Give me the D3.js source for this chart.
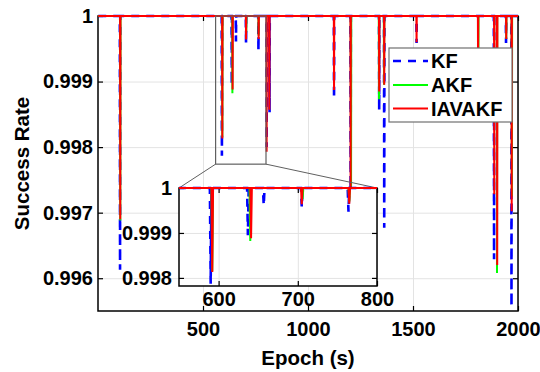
<!DOCTYPE html>
<html><head><meta charset="utf-8">
<script src="https://cdn.jsdelivr.net/npm/d3@7"></script>
<style>
html,body{margin:0;padding:0;background:#fff;}
svg text{font-family:"Liberation Sans",Arial,sans-serif;font-weight:bold;fill:#000;}
</style></head>
<body><svg id="chart" width="540" height="372"></svg>
<script>
// ---- data ----
const seriesNames = ["KF", "AKF", "IAVAKF"];
const kfEpochs  = [105, 590, 637, 657, 705, 764, 803, 817, 1124, 1203, 1339, 1363, 1517, 1886, 1943, 1969];
const kfValues  = [0.99613, 0.99787, 0.99895, 0.99961, 0.99957, 0.99947, 0.9980, 0.99853, 0.99874, 0.9969, 0.99857, 0.99677, 0.99959, 0.99629, 0.99959, 0.99557];
const akfEpochs = [106, 592, 640, 706, 765, 1205, 1338, 1362, 1811, 1900, 1944, 1971];
const akfValues = [0.99688, 0.99815, 0.99882, 0.99975, 0.9997, 0.9971, 0.99873, 0.99895, 0.9991, 0.99608, 0.99965, 0.99725];
const iavEpochs = [106, 592, 641, 705, 765, 803, 816, 1124, 1203, 1339, 1363, 1517, 1810, 1887, 1901, 1944, 1970];
const iavValues = [0.9969, 0.99813, 0.99888, 0.99964, 0.99965, 0.99793, 0.99857, 0.99887, 0.9972, 0.99885, 0.99895, 0.9996, 0.9991, 0.99728, 0.9962, 0.99965, 0.99702];
const xTicks = [500, 1000, 1500, 2000];
const yTicks = [0.996, 0.997, 0.998, 0.999, 1];
const insetXTicks = [600, 700, 800];
const insetYTicks = [0.998, 0.999, 1];
const xDomain = [0, 2000];
const yDomain = [0.9955, 1];
const insetXDomain = [550, 800];
const insetYDomain = [0.99782, 1];
const zoomBoxX = [560, 800];
const zoomBoxY = [0.99774, 1];
const epochEnd = 2000;

// ---- layout ----
const svg = d3.select("#chart");
const L = 98, R = 518, T = 16, B = 311;
const iL = 179, iR = 377, iT = 188, iB = 286;
const colors = ["#0000ff", "#00ff00", "#ff0000"];
const widths = [2.6, 2, 2];
const dashes = ["8,7", null, null];
const FS = 20;
const fmtY = d => d === 1 ? "1" : d3.format(".3f")(d);
const fmtX = d3.format("d");

function build(epochs, values) {
  const pts = [[1, 1]];
  epochs.forEach((e, i) => { pts.push([e - 1, 1], [e, values[i]], [e + 1, 1]); });
  pts.push([epochEnd, 1]);
  return pts;
}
const series = [build(kfEpochs, kfValues), build(akfEpochs, akfValues), build(iavEpochs, iavValues)];

const x = d3.scaleLinear().domain(xDomain).range([L, R]);
const y = d3.scaleLinear().domain(yDomain).range([B, T]);

// grid
const gridColor = "#e3e3e3";
svg.append("g").attr("transform", `translate(0,${B})`)
  .call(d3.axisBottom(x).tickValues(xTicks).tickSize(-(B - T)).tickFormat(""))
  .call(g => { g.select(".domain").remove(); g.selectAll("line").attr("stroke", gridColor); });
svg.append("g").attr("transform", `translate(${L},0)`)
  .call(d3.axisLeft(y).tickValues(yTicks).tickSize(-(R - L)).tickFormat(""))
  .call(g => { g.select(".domain").remove(); g.selectAll("line").attr("stroke", gridColor); });

// axes
function styleAxis(g) {
  g.select(".domain").remove();
  g.selectAll("line").attr("stroke", "#000").attr("stroke-width", 1.2);
  g.selectAll("text").attr("font-size", FS).attr("font-family", "Liberation Sans, Arial, sans-serif").attr("font-weight", "bold").attr("fill", "#000");
}
svg.append("g").attr("transform", `translate(0,${B})`)
  .call(d3.axisBottom(x).tickValues(xTicks).tickSize(-5).tickPadding(11).tickFormat(fmtX)).call(styleAxis);
svg.append("g").attr("transform", `translate(0,${T})`)
  .call(d3.axisTop(x).tickValues(xTicks).tickSize(-5).tickFormat("")).call(styleAxis);
svg.append("g").attr("transform", `translate(${L},0)`)
  .call(d3.axisLeft(y).tickValues(yTicks).tickSize(-5).tickPadding(5).tickFormat(fmtY)).call(styleAxis);
svg.append("g").attr("transform", `translate(${R},0)`)
  .call(d3.axisRight(y).tickValues(yTicks).tickSize(-5).tickFormat("")).call(styleAxis);

svg.append("rect").attr("x", L).attr("y", T).attr("width", R - L).attr("height", B - T)
  .attr("fill", "none").attr("stroke", "#000").attr("stroke-width", 1.5);

// main lines
const line = d3.line().x(d => x(d[0])).y(d => y(d[1]));
series.forEach((s, i) => {
  svg.append("path").datum(s).attr("d", line).attr("fill", "none")
    .attr("stroke", colors[i]).attr("stroke-width", widths[i])
    .attr("stroke-dasharray", dashes[i]);
});

// zoom box and connectors
const zx0 = x(zoomBoxX[0]), zx1 = x(zoomBoxX[1]), zy0 = y(zoomBoxY[1]), zy1 = y(zoomBoxY[0]);
svg.append("rect").attr("x", zx0).attr("y", zy0).attr("width", zx1 - zx0).attr("height", zy1 - zy0)
  .attr("fill", "none").attr("stroke", "#606060").attr("stroke-width", 1.2);
svg.append("line").attr("x1", zx0).attr("y1", zy1).attr("x2", iL).attr("y2", iT).attr("stroke", "#606060").attr("stroke-width", 1);
svg.append("line").attr("x1", zx1).attr("y1", zy1).attr("x2", iR).attr("y2", iT).attr("stroke", "#606060").attr("stroke-width", 1);

// legend
const lg = svg.append("g");
lg.append("rect").attr("x", 389).attr("y", 48).attr("width", 123).attr("height", 74)
  .attr("fill", "#fff").attr("stroke", "#707070").attr("stroke-width", 1.2);
const legY = [61, 85, 108.5];
seriesNames.forEach((n, i) => {
  lg.append("line").attr("x1", 393).attr("x2", 428).attr("y1", legY[i]).attr("y2", legY[i])
    .attr("stroke", colors[i]).attr("stroke-width", widths[i]).attr("stroke-dasharray", dashes[i]);
  lg.append("text").attr("x", 431).attr("y", legY[i]).attr("dy", "0.36em")
    .attr("font-size", FS).text(n);
});

// inset
const ix = d3.scaleLinear().domain(insetXDomain).range([iL, iR]);
const iy = d3.scaleLinear().domain(insetYDomain).range([iB, iT]);
const ins = svg.append("g");
ins.append("rect").attr("x", iL).attr("y", iT).attr("width", iR - iL).attr("height", iB - iT).attr("fill", "#fff");
ins.append("g").attr("transform", `translate(0,${iB})`)
  .call(d3.axisBottom(ix).tickValues(insetXTicks).tickSize(-(iB - iT)).tickFormat(""))
  .call(g => { g.select(".domain").remove(); g.selectAll("line").attr("stroke", gridColor); });
ins.append("g").attr("transform", `translate(${iL},0)`)
  .call(d3.axisLeft(iy).tickValues(insetYTicks).tickSize(-(iR - iL)).tickFormat(""))
  .call(g => { g.select(".domain").remove(); g.selectAll("line").attr("stroke", gridColor); });
ins.append("g").attr("transform", `translate(0,${iB})`)
  .call(d3.axisBottom(ix).tickValues(insetXTicks).tickSize(-5).tickPadding(6).tickFormat(fmtX)).call(styleAxis);
ins.append("g").attr("transform", `translate(0,${iT})`)
  .call(d3.axisTop(ix).tickValues(insetXTicks).tickSize(-5).tickFormat("")).call(styleAxis);
ins.append("g").attr("transform", `translate(${iL},0)`)
  .call(d3.axisLeft(iy).tickValues(insetYTicks).tickSize(-5).tickPadding(7).tickFormat(fmtY)).call(styleAxis);
ins.append("g").attr("transform", `translate(${iR},0)`)
  .call(d3.axisRight(iy).tickValues(insetYTicks).tickSize(-5).tickFormat("")).call(styleAxis);
ins.append("rect").attr("x", iL).attr("y", iT).attr("width", iR - iL).attr("height", iB - iT)
  .attr("fill", "none").attr("stroke", "#000").attr("stroke-width", 1.5);
svg.append("clipPath").attr("id", "insetClip").append("rect")
  .attr("x", iL).attr("y", iT - 4).attr("width", iR - iL).attr("height", iB - iT + 4);
const iline = d3.line().x(d => ix(d[0])).y(d => iy(d[1]));
series.forEach((s, i) => {
  ins.append("path").datum(s).attr("d", iline).attr("fill", "none")
    .attr("clip-path", "url(#insetClip)")
    .attr("stroke", colors[i]).attr("stroke-width", widths[i])
    .attr("stroke-dasharray", dashes[i]);
});

// axis titles
svg.append("text").attr("x", (L + R) / 2).attr("y", 358).attr("dy", "0.36em")
  .attr("text-anchor", "middle").attr("font-size", 20.5).text("Epoch (s)");
svg.append("text").attr("transform", `translate(22,${(T + B) / 2}) rotate(-90)`).attr("dy", "0.36em")
  .attr("text-anchor", "middle").attr("font-size", 20.5).text("Success Rate");
</script></body></html>
